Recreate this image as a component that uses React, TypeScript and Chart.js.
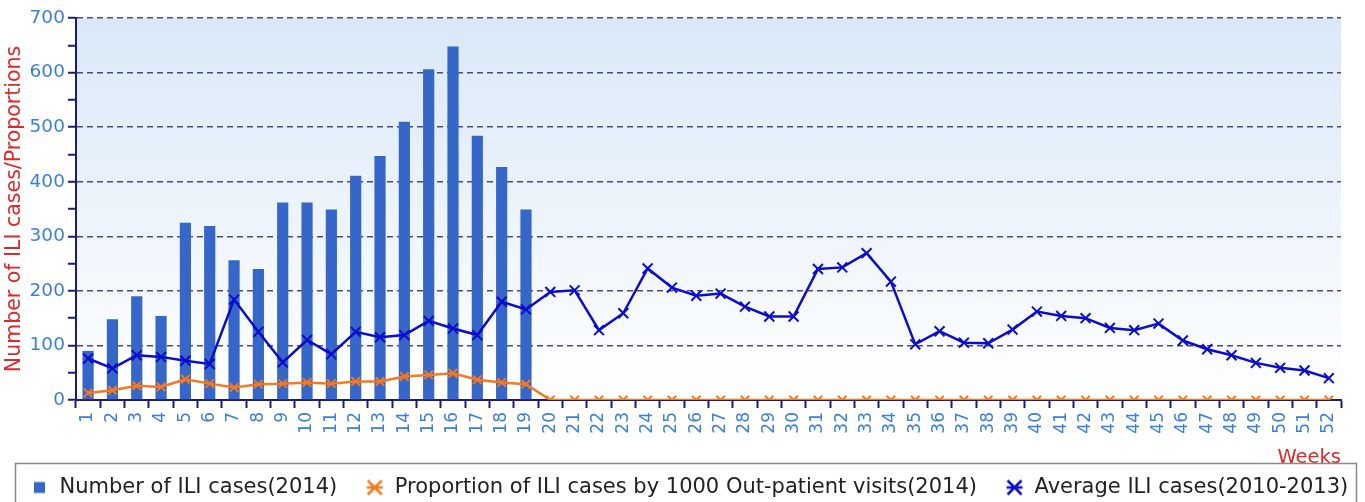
import React, { useEffect, useRef } from "react";
import { Chart, registerables } from "chart.js";

Chart.register(...registerables);

const weeks = [
  "1", "2", "3", "4", "5", "6", "7", "8", "9", "10", "11", "12", "13",
  "14", "15", "16", "17", "18", "19", "20", "21", "22", "23", "24", "25", "26",
  "27", "28", "29", "30", "31", "32", "33", "34", "35", "36", "37", "38", "39",
  "40", "41", "42", "43", "44", "45", "46", "47", "48", "49", "50", "51", "52",
];

const cases2014 = [
  90, 148, 190, 154, 325, 319, 256, 240, 362, 362, 349, 411, 447, 510, 606, 648,
  484, 427, 349,
];

const proportion2014 = [
  13, 18, 26, 24, 38, 30, 23, 29, 30, 32, 30, 34, 34, 43, 46, 49, 37, 32, 29,
  0, 0, 0, 0, 0, 0, 0, 0, 0, 0, 0, 0, 0, 0, 0, 0, 0, 0, 0, 0, 0, 0, 0, 0, 0,
  0, 0, 0, 0, 0, 0, 0, 0,
];

const average20102013 = [
  76, 58, 82, 79, 72, 66, 184, 125, 69, 110, 84, 125, 115, 119, 145, 131, 119,
  180, 166, 198, 201, 128, 159, 241, 206, 191, 195, 171, 153, 153, 240, 243,
  269, 217, 102, 126, 105, 104, 129, 162, 154, 150, 132, 128, 140, 109, 93, 82,
  68, 59, 54, 40,
];

const seriesNames = [
  "Number of ILI cases(2014)",
  "Proportion of ILI cases by 1000 Out-patient visits(2014)",
  "Average ILI cases(2010-2013)",
];

const BAR = "#3566c8";
const ORANGE = "#f5791f";
const BLUE = "#0c0ccc";
const NAVY = "#1c1c78";
const GRID = "#4a4a88";
const TICK_BLUE = "#3b7fd8";
const RED = "#dc2a2a";
const FONT = "'DejaVu Sans', sans-serif";

const LEG_W = 37;

function legendMarker(kind: string, color: string): HTMLCanvasElement {
  const c = document.createElement("canvas");
  c.width = LEG_W;
  c.height = 18;
  const g = c.getContext("2d") as CanvasRenderingContext2D;
  const cx = LEG_W - 9.5;
  const cy = 9;
  if (kind === "square") {
    g.fillStyle = color;
    g.fillRect(cx - 5.5, cy - 5.5, 11, 11);
  } else {
    g.strokeStyle = color;
    g.lineWidth = 2.5;
    g.beginPath();
    g.moveTo(cx - 7, cy - 7);
    g.lineTo(cx + 7, cy + 7);
    g.moveTo(cx + 7, cy - 7);
    g.lineTo(cx - 7, cy + 7);
    g.moveTo(cx - 8, cy);
    g.lineTo(cx + 8, cy);
    g.stroke();
  }
  return c;
}

const bgPlugin = {
  id: "plotBg",
  beforeDraw(chart: any) {
    const { ctx, chartArea } = chart;
    if (!chartArea) return;
    const g = ctx.createLinearGradient(0, chartArea.top, 0, chartArea.bottom);
    g.addColorStop(0, "#d9e8f8");
    g.addColorStop(1, "#ffffff");
    ctx.save();
    ctx.fillStyle = g;
    ctx.fillRect(chartArea.left, chartArea.top, chartArea.right - chartArea.left, chartArea.bottom - chartArea.top);
    ctx.restore();
  },
};

const legendBoxPlugin = {
  id: "legendBox",
  afterDraw(chart: any) {
    const { ctx } = chart;
    ctx.save();
    ctx.strokeStyle = "#8a8a8a";
    ctx.lineWidth = 1.5;
    ctx.strokeRect(15.5, 463.5, 1341, 50);
    ctx.restore();
  },
};

export default function App() {
  const ref = useRef<HTMLCanvasElement | null>(null);

  useEffect(() => {
    document.body.style.margin = "0";
    const canvas = ref.current;
    if (!canvas) return;
    const markers = [
      legendMarker("square", BAR),
      legendMarker("star", ORANGE),
      legendMarker("star", BLUE),
    ];
    const chart = new Chart(canvas, {
      type: "bar",
      data: {
        labels: weeks,
        datasets: [
          {
            type: "bar",
            label: seriesNames[0],
            data: cases2014,
            backgroundColor: BAR,
            borderWidth: 0,
            barPercentage: 0.46,
            categoryPercentage: 1,
            order: 3,
          },
          {
            type: "line",
            label: seriesNames[1],
            data: proportion2014,
            borderColor: ORANGE,
            backgroundColor: ORANGE,
            borderWidth: 2.5,
            pointStyle: "crossRot",
            pointRadius: 6,
            pointBorderWidth: 2,
            pointBorderColor: ORANGE,
            tension: 0,
            order: 2,
          },
          {
            type: "line",
            label: seriesNames[2],
            data: average20102013,
            borderColor: BLUE,
            backgroundColor: BLUE,
            borderWidth: 2.5,
            pointStyle: "crossRot",
            pointRadius: 7,
            pointBorderWidth: 2,
            pointBorderColor: BLUE,
            tension: 0,
            order: 1,
          },
        ],
      },
      options: {
        responsive: false,
        animation: false,
        layout: { padding: { left: 2, right: 0, top: 18, bottom: -6 } },
        plugins: {
          tooltip: { enabled: false },
          legend: {
            position: "bottom",
            align: "start",
            labels: {
              color: "#222222",
              font: { family: FONT, size: 21 },
              usePointStyle: true,
              pointStyleWidth: LEG_W,
              boxHeight: 11,
              padding: 10,
              sort: (a: any, b: any) => a.datasetIndex - b.datasetIndex,
              generateLabels: (chart: any) => {
                const items = Chart.defaults.plugins.legend.labels.generateLabels(chart);
                return items.map((it: any) => ({ ...it, pointStyle: markers[it.datasetIndex] }));
              },
            },
          },
        },
        scales: {
          x: {
            offset: true,
            afterFit: (s: any) => {
              s.height = 67;
            },
            grid: {
              offset: true,
              drawOnChartArea: false,
              drawTicks: true,
              tickLength: 8,
              tickColor: NAVY,
              tickWidth: 2,
            },
            border: { display: true, color: NAVY, width: 2 },
            ticks: {
              color: TICK_BLUE,
              font: { family: FONT, size: 17 },
              minRotation: 90,
              maxRotation: 90,
              autoSkip: false,
              padding: 4,
            },
            title: {
              display: true,
              text: "Weeks",
              align: "end",
              color: RED,
              font: { family: FONT, size: 19.5 },
              padding: { top: 0, bottom: -3 },
            },
          },
          y: {
            min: 0,
            max: 700,
            grid: {
              color: (c: any) => (c.tick && c.tick.value % 100 === 0 && c.tick.value !== 0 ? GRID : "rgba(0,0,0,0)"),
              lineWidth: 1.5,
              drawTicks: true,
              tickLength: 8,
              tickColor: NAVY,
              tickWidth: 2,
            },
            border: { display: true, color: NAVY, width: 2, dash: [6, 4] },
            ticks: {
              stepSize: 50,
              color: TICK_BLUE,
              font: { family: FONT, size: 18.5 },
              padding: 3,
              callback: (v: any) => (Number(v) % 100 === 0 ? String(v) : ""),
            },
            title: {
              display: true,
              text: "Number of ILI cases/Proportions",
              color: RED,
              font: { family: FONT, size: 20.5 },
              padding: { top: 0, bottom: 0 },
            },
          },
          rightMargin: {
            type: "linear",
            position: "right",
            display: true,
            afterFit: (s: any) => {
              s.width = 24;
            },
            grid: { display: false, drawTicks: false },
            border: { display: false },
            ticks: { display: false },
          },
        },
      },
      plugins: [bgPlugin, legendBoxPlugin],
    });
    return () => chart.destroy();
  }, []);

  return (
    <div style={{ width: 1365, height: 502, background: "#ffffff" }}>
      <canvas ref={ref} width={1365} height={502} />
    </div>
  );
}
